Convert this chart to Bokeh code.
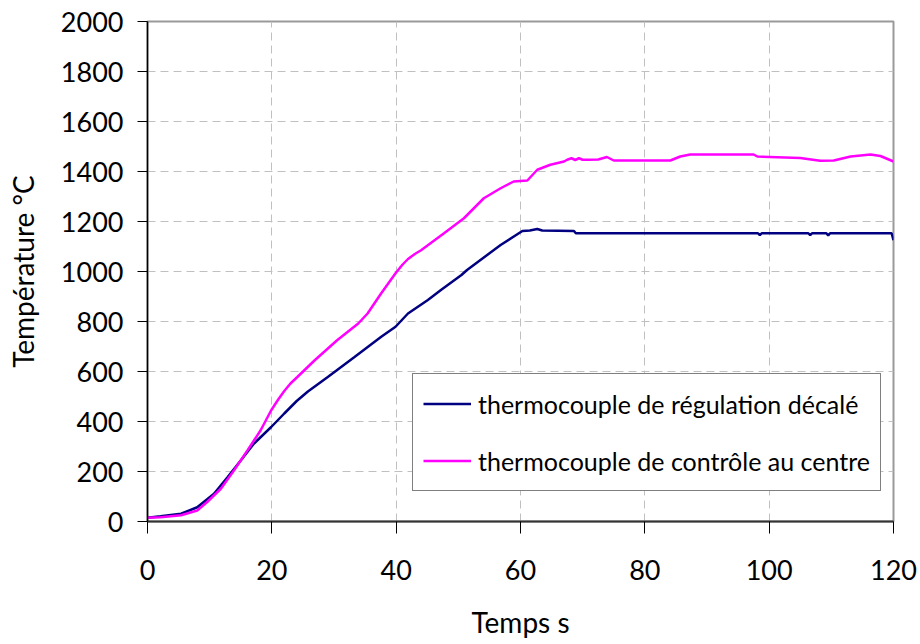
from bokeh.plotting import figure
from bokeh.models import Range1d, FixedTicker, Legend, LegendItem
from bokeh.embed import file_html
from bokeh.resources import INLINE

# ---- data ----
t_reg = [0, 2.1, 5.4, 8.0, 10.7, 12.9, 15.0, 17.1, 19.9, 22.0, 24.0, 25.8, 29.0, 33.3,
         37.6, 39.9, 41.9, 45.1, 47.2, 50.5, 51.4, 56.8, 60.3, 61.5, 62.7, 63.5,
         68.6, 68.9, 98.2, 98.5, 98.8, 106.3, 106.6, 106.9, 109.2, 109.5, 109.8,
         119.7, 120]
T_reg = [15, 21, 31, 57, 111, 178, 244, 311, 378, 432, 482, 520, 578, 658,
         739, 779, 832, 886, 926, 986, 1006, 1106, 1162, 1164, 1170, 1164,
         1162, 1153, 1153, 1145, 1153, 1153, 1145, 1153, 1153, 1144, 1153,
         1153, 1125]

t_ctr = [0, 2.1, 5.4, 8.0, 9.6, 11.8, 13.9, 16.1, 18.2, 19.9, 21.0, 22.0, 23.0, 24.1, 26.9,
         30.5, 33.9, 35.4, 37.6, 39.9, 41.0, 41.9, 43.0, 44.0, 47.7, 50.9, 54.1, 56.8, 58.9,
         61.1, 62.7, 64.8, 67.0, 67.5, 68.2, 68.8, 69.4, 70.0, 70.7, 72.5, 73.9,
         75.0, 84.1, 85.7, 87.3, 97.5, 98.1, 105.0, 108.2, 110.4, 113.1, 116.3,
         117.9, 120]
T_ctr = [15, 17, 25, 44, 78, 131, 204, 285, 365, 445, 487, 522, 552, 578, 645,
         725, 792, 832, 913, 993, 1027, 1050, 1070, 1085, 1153, 1213, 1293, 1333, 1360,
         1364, 1407, 1427, 1440, 1447, 1453, 1446, 1453, 1447, 1447, 1448, 1458,
         1444, 1444, 1460, 1468, 1468, 1460, 1454, 1443, 1444, 1460, 1468,
         1462, 1440]

x_ticks = [0, 20, 40, 60, 80, 100, 120]
y_ticks = [0, 200, 400, 600, 800, 1000, 1200, 1400, 1600, 1800, 2000]

label_reg = "thermocouple de régulation décalé"
label_ctr = "thermocouple de contrôle au centre"
x_title = "Temps s"
y_title = "Température °C"

FONT = "Lato"

p = figure(width=920, height=644, output_backend="svg", toolbar_location=None,
           x_range=Range1d(0, 120), y_range=Range1d(0, 2000),
           min_border_left=147, min_border_right=27, min_border_top=21,
           min_border_bottom=123)

p.outline_line_color = "#9a9a9a"
p.outline_line_width = 2
p.background_fill_color = "white"
p.border_fill_color = "white"

for ax, ticks in ((p.xaxis[0], x_ticks), (p.yaxis[0], y_ticks)):
    ax.ticker = FixedTicker(ticks=ticks)
    ax.minor_tick_line_color = None
    ax.major_tick_in = 0
    ax.major_tick_line_color = "black"
    ax.major_label_text_font = FONT
    ax.major_label_text_font_size = "27px"
    ax.major_label_text_color = "black"
    ax.axis_label_text_font = FONT
    ax.axis_label_text_font_size = "28px"
    ax.axis_label_text_font_style = "normal"
    ax.axis_label_text_color = "black"

p.xaxis.axis_label = x_title
p.yaxis.axis_label = y_title
p.xaxis.axis_line_color = "#333333"
p.xaxis.axis_line_width = 2
p.yaxis.axis_line_color = "black"
p.yaxis.axis_line_width = 1.5
p.xaxis.major_tick_out = 12
p.xaxis.major_label_standoff = 26
p.xaxis.axis_label_standoff = 22
p.yaxis.major_tick_out = 10
p.yaxis.major_label_standoff = 14
p.yaxis.axis_label_standoff = 18

for g in (p.xgrid[0], p.ygrid[0]):
    g.grid_line_color = "#c0c0c0"
    g.grid_line_dash = "8 5"
    g.grid_line_width = 1
p.xgrid.ticker = FixedTicker(ticks=x_ticks)
p.ygrid.ticker = FixedTicker(ticks=y_ticks)

r1 = p.line(t_reg, T_reg, line_color="#000080", line_width=2.5)
r2 = p.line(t_ctr, T_ctr, line_color="#FF00FF", line_width=2.5)

legend = Legend(items=[LegendItem(label=label_reg, renderers=[r1]),
                       LegendItem(label=label_ctr, renderers=[r2])],
                location=(265, 30))
legend.label_text_font = FONT
legend.label_text_font_size = "25px"
legend.label_text_color = "black"
legend.glyph_width = 48
legend.glyph_height = 39
legend.label_height = 39
legend.label_standoff = 7
legend.padding = 10
legend.spacing = 18
legend.margin = 0
legend.border_line_color = "black"
legend.border_line_width = 1
legend.background_fill_color = "white"
legend.background_fill_alpha = 1
p.add_layout(legend, "center")

open("out.html", "w").write(file_html(p, INLINE))
